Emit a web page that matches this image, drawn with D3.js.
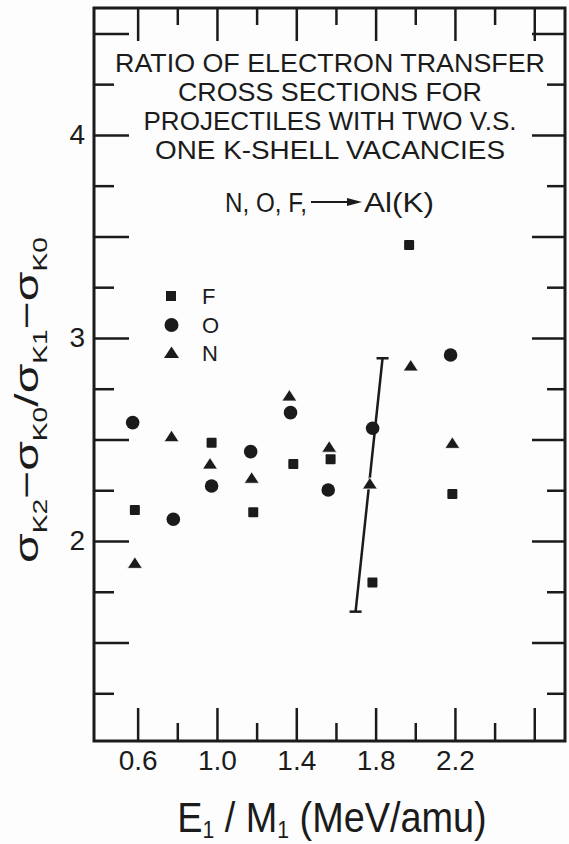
<!DOCTYPE html>
<html><head><meta charset="utf-8">
<script src="https://cdn.jsdelivr.net/npm/d3@7"></script>
<style>html,body{margin:0;padding:0;background:#fff;} svg{display:block}</style>
</head><body>
<svg id="c" width="569" height="844"></svg>
<script>
// ---------- data ----------
const titleLines = ["RATIO OF ELECTRON TRANSFER", "CROSS SECTIONS FOR", "PROJECTILES WITH TWO V.S.", "ONE K-SHELL VACANCIES"];
const reactionLeft = "N, O, F,";
const reactionRight = "Al(K)";
const seriesNames = ["F", "O", "N"];

const xMajorTicks = [0.6, 1.0, 1.4, 1.8, 2.2, 2.6];
const xMinorTicks = [0.8, 1.2, 1.6, 2.0, 2.4];
const xTickLabels = ["0.6", "1.0", "1.4", "1.8", "2.2", ""];
const yMajorTicks = [1.5, 2, 2.5, 3, 3.5, 4, 4.5];
const yMinorTicks = [1.25, 1.75, 2.25, 2.75, 3.25, 3.75, 4.25];
const yTickLabels = ["", "2", "", "3", "", "4", ""];

// F (squares)
const fX = [0.586, 0.973, 1.183, 1.385, 1.573, 1.784, 1.969, 2.187];
const fY = [2.153, 2.484, 2.141, 2.379, 2.402, 1.795, 3.458, 2.232];
// O (circles)
const oX = [0.575, 0.780, 0.973, 1.170, 1.371, 1.561, 1.785, 2.178];
const oY = [2.583, 2.107, 2.271, 2.440, 2.632, 2.251, 2.555, 2.916];
// N (triangles)
const nX = [0.586, 0.771, 0.965, 1.175, 1.365, 1.566, 1.771, 1.977, 2.187];
const nY = [1.890, 2.514, 2.379, 2.309, 2.714, 2.462, 2.281, 2.862, 2.481];
// representative error bar (drawn slanted in original)
const errX = [1.699, 1.835];
const errY = [1.652, 2.900];

// ---------- layout ----------
const INK = "#1b1b1b";
const FONT = "'Liberation Sans', Arial, sans-serif";
const svg = d3.select("#c");
svg.append("rect").attr("width", 569).attr("height", 844).attr("fill", "#fdfdfd");

const x = d3.scaleLinear().domain([0.38, 2.755]).range([94, 565]);
const y = d3.scaleLinear().domain([1.015, 4.625]).range([741, 8]);
const [L, R] = x.range();
const [B, T] = y.range();

function styleAxis(g) {
  g.select(".domain").remove();
  g.attr("font-size", null).attr("font-family", null);
  g.selectAll(".tick line").attr("stroke", INK).attr("stroke-width", 2.5);
  g.selectAll(".tick text").attr("fill", INK).attr("font-family", FONT).attr("font-size", 28);
}

// ticks
svg.append("g").attr("transform", `translate(0,${B})`)
  .call(d3.axisBottom(x).tickValues(xMajorTicks).tickSize(-33).tickPadding(9).tickFormat((d, i) => xTickLabels[i]))
  .call(styleAxis);
svg.append("g").attr("transform", `translate(0,${B})`)
  .call(d3.axisBottom(x).tickValues(xMinorTicks).tickSize(-18).tickFormat(""))
  .call(styleAxis);
svg.append("g").attr("transform", `translate(0,${T})`)
  .call(d3.axisTop(x).tickValues(xMajorTicks).tickSize(-33).tickFormat(""))
  .call(styleAxis);
svg.append("g").attr("transform", `translate(0,${T})`)
  .call(d3.axisTop(x).tickValues(xMinorTicks).tickSize(-17).tickFormat(""))
  .call(styleAxis);
svg.append("g").attr("transform", `translate(${L},0)`)
  .call(d3.axisLeft(y).tickValues(yMajorTicks).tickSize(-35).tickPadding(9).tickFormat((d, i) => yTickLabels[i]))
  .call(styleAxis);
svg.append("g").attr("transform", `translate(${L},0)`)
  .call(d3.axisLeft(y).tickValues(yMinorTicks).tickSize(-20).tickFormat(""))
  .call(styleAxis);
svg.append("g").attr("transform", `translate(${R},0)`)
  .call(d3.axisRight(y).tickValues(yMajorTicks).tickSize(-33).tickFormat(""))
  .call(styleAxis);
svg.append("g").attr("transform", `translate(${R},0)`)
  .call(d3.axisRight(y).tickValues(yMinorTicks).tickSize(-18).tickFormat(""))
  .call(styleAxis);

// frame
svg.append("rect").attr("x", L).attr("y", T).attr("width", R - L).attr("height", B - T)
  .attr("fill", "none").attr("stroke", INK).attr("stroke-width", 3);

// title
const tl = [[72, 430], [101, 304], [130, 373], [159, 350]];
titleLines.forEach((t, i) => {
  svg.append("text").attr("x", 330).attr("y", tl[i][0]).attr("text-anchor", "middle")
    .attr("font-family", FONT).attr("font-size", 26).attr("fill", INK)
    .attr("textLength", tl[i][1]).attr("lengthAdjust", "spacingAndGlyphs").text(t);
});
svg.append("text").attr("x", 225).attr("y", 212).attr("font-family", FONT).attr("font-size", 27)
  .attr("fill", INK).attr("textLength", 82).attr("lengthAdjust", "spacingAndGlyphs").text(reactionLeft);
svg.append("line").attr("x1", 311).attr("x2", 352).attr("y1", 202).attr("y2", 202)
  .attr("stroke", INK).attr("stroke-width", 2);
svg.append("path").attr("d", "M347,198 L362,202 L347,206 Z").attr("fill", INK);
svg.append("text").attr("x", 364).attr("y", 212).attr("font-family", FONT).attr("font-size", 27)
  .attr("fill", INK).attr("textLength", 70).attr("lengthAdjust", "spacingAndGlyphs").text(reactionRight);

// error bar
const eb = svg.append("g").attr("stroke", INK).attr("stroke-width", 2.5);
eb.append("line").attr("x1", x(errX[0])).attr("y1", y(errY[0])).attr("x2", x(errX[1])).attr("y2", y(errY[1]));
[0, 1].forEach(i => {
  eb.append("line").attr("x1", x(errX[i]) - 6).attr("x2", x(errX[i]) + 6)
    .attr("y1", y(errY[i])).attr("y2", y(errY[i]));
});

// markers
const tri = "M0,-6.5 L7.5,5 L-7.5,5 Z";
const g = svg.append("g").attr("fill", INK);
g.selectAll(".f").data(fX).join("rect").attr("class", "f")
  .attr("x", d => x(d) - 5).attr("y", (d, i) => y(fY[i]) - 5)
  .attr("width", 10).attr("height", 10).attr("rx", 1);
g.selectAll(".o").data(oX).join("circle").attr("class", "o")
  .attr("cx", d => x(d)).attr("cy", (d, i) => y(oY[i])).attr("r", 6.8);
g.selectAll(".n").data(nX).join("path").attr("class", "n")
  .attr("transform", (d, i) => `translate(${x(d)},${y(nY[i])})`).attr("d", tri)
  .attr("stroke", "#fdfdfd").attr("stroke-width", 0.8);

// legend
const lg = svg.append("g");
const lgY = [296, 325, 353];
lg.append("rect").attr("x", 166).attr("y", lgY[0] - 5).attr("width", 10).attr("height", 10).attr("fill", INK);
lg.append("circle").attr("cx", 171.5).attr("cy", lgY[1]).attr("r", 7).attr("fill", INK);
lg.append("path").attr("transform", `translate(171.5,${lgY[2]})`).attr("d", tri).attr("fill", INK);
seriesNames.forEach((s, i) => {
  lg.append("text").attr("x", 202).attr("y", lgY[i] + 8).attr("font-family", FONT).attr("font-size", 22)
    .attr("fill", INK).text(s);
});

// y label
const yl = svg.append("text").attr("transform", "translate(38,400) rotate(-90)")
  .attr("text-anchor", "middle").attr("font-family", FONT).attr("font-size", 34).attr("fill", INK)
  .attr("textLength", 326).attr("lengthAdjust", "spacingAndGlyphs");
const yparts = [["σ", 0], ["K2", 1], ["−", 0], ["σ", 0], ["K0", 1], ["/", 0], ["σ", 0], ["K1", 1], ["−", 0], ["σ", 0], ["K0", 1]];
yparts.forEach(([t, sub], i) => {
  const prevSub = i > 0 && yparts[i - 1][1];
  const dy = sub && !prevSub ? 9 : (!sub && prevSub ? -9 : 0);
  yl.append("tspan").attr("dy", dy).attr("font-size", sub ? 20 : 34).text(t);
});

// x label (horizontally condensed via transform)
const xl = svg.append("g").attr("transform", "translate(332,832) scale(0.88,1)")
  .append("text").attr("x", 0).attr("y", 0).attr("text-anchor", "middle")
  .attr("font-family", FONT).attr("font-size", 43).attr("fill", INK);
const xparts = [["E", 0], ["1", 1], [" / M", 0], ["1", 1], [" (MeV/amu)", 0]];
xparts.forEach(([t, sub], i) => {
  const prevSub = i > 0 && xparts[i - 1][1];
  const dy = sub && !prevSub ? 6 : (!sub && prevSub ? -6 : 0);
  xl.append("tspan").attr("dy", dy).attr("font-size", sub ? 24 : 43).text(t);
});
</script>
</body></html>
